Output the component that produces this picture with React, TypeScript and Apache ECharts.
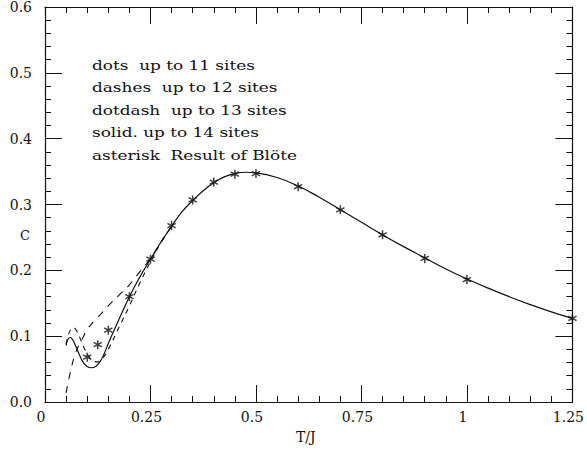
import React, { useEffect, useRef } from "react";
import * as echarts from "echarts";

// ---- data ----
const solidLow: [number, number][] = [
  [0.05, 0.086], [0.055, 0.096], [0.06, 0.098], [0.065, 0.095], [0.07, 0.089],
  [0.08, 0.074], [0.09, 0.061], [0.1, 0.054], [0.11, 0.052], [0.12, 0.054],
  [0.13, 0.061], [0.14, 0.073], [0.15, 0.089], [0.175, 0.125], [0.2, 0.16],
  [0.225, 0.19],
];
const commonHigh: [number, number][] = [
  [0.25, 0.217], [0.275, 0.243], [0.3, 0.267], [0.325, 0.289], [0.35, 0.306],
  [0.375, 0.321], [0.4, 0.333], [0.425, 0.342], [0.45, 0.347], [0.475, 0.349],
  [0.5, 0.348], [0.55, 0.341], [0.6, 0.328], [0.65, 0.311], [0.7, 0.292],
  [0.75, 0.273], [0.8, 0.254], [0.85, 0.236], [0.9, 0.219], [0.95, 0.202],
  [1.0, 0.187], [1.05, 0.173], [1.1, 0.16], [1.15, 0.148], [1.2, 0.137],
  [1.25, 0.127],
];
const dashesLow: [number, number][] = [
  [0.05, 0.014], [0.055, 0.03], [0.06, 0.045], [0.07, 0.07], [0.08, 0.086],
  [0.09, 0.098], [0.1, 0.11], [0.115, 0.122], [0.13, 0.132], [0.15, 0.146],
  [0.175, 0.162], [0.2, 0.178], [0.225, 0.198], [0.25, 0.218], [0.275, 0.243],
  [0.3, 0.267],
];
const dotdashLow: [number, number][] = [
  [0.05, 0.088], [0.055, 0.101], [0.06, 0.109], [0.067, 0.113], [0.075, 0.108],
  [0.085, 0.094], [0.095, 0.079], [0.105, 0.068], [0.115, 0.062], [0.125, 0.061],
  [0.135, 0.065], [0.15, 0.08], [0.175, 0.113], [0.2, 0.146], [0.225, 0.181],
  [0.25, 0.213], [0.275, 0.242], [0.3, 0.267],
];
const bloteT = [0.1, 0.125, 0.15, 0.2, 0.25, 0.3, 0.35, 0.4, 0.45, 0.5, 0.6, 0.7, 0.8, 0.9, 1.0, 1.25];
const bloteC = [0.068, 0.087, 0.109, 0.16, 0.217, 0.268, 0.307, 0.334, 0.346, 0.347, 0.327, 0.292, 0.254, 0.218, 0.186, 0.127];
const legendLines = [
  "dots  up to 11 sites",
  "dashes  up to 12 sites",
  "dotdash  up to 13 sites",
  "solid. up to 14 sites",
  "asterisk  Result of Blöte",
];

const FONT = "DejaVu Serif";
const ASTERISK =
  "path://M-0.8,-5 L0.8,-5 L0.8,5 L-0.8,5 Z " +
  "M3.93,3.193 L-4.73,-1.807 L-3.93,-3.193 L4.73,1.807 Z " +
  "M-4.73,1.807 L3.93,-3.193 L4.73,-1.807 L-3.93,3.193 Z";

export default function App() {
  const ref = useRef<HTMLDivElement>(null);
  useEffect(() => {
    if (!ref.current) return;
    const chart = echarts.init(ref.current, undefined, { renderer: "svg" });
    const black = "#111";
    const axisBase = (show: boolean) => ({
      axisLine: { show: true, onZero: false, lineStyle: { color: black, width: 1.2 } },
      axisTick: { show: true, inside: true, length: 17, lineStyle: { color: black, width: 1 } },
      minorTick: { show: true, splitNumber: 5, length: 6, lineStyle: { color: black, width: 1 } },
      splitLine: { show: false },
      minorSplitLine: { show: false },
      axisLabel: { show, color: black, fontFamily: FONT, fontSize: 14 },
    });
    chart.setOption({
      animation: false,
      backgroundColor: "#fff",
      grid: { left: 45, right: 12, top: 6, bottom: 48 },
      xAxis: [
        {
          type: "value", min: 0, max: 1.25, interval: 0.25, position: "bottom",
          ...axisBase(true),
          axisLabel: {
            show: true, color: black, fontFamily: FONT, fontSize: 14, margin: 8,
            padding: [0, 8, 0, 0],
          },
          name: "T/J", nameLocation: "middle", nameGap: 28,
          nameTextStyle: { color: black, fontFamily: FONT, fontSize: 14, padding: [0, 6, 0, 0] },
        },
        { type: "value", min: 0, max: 1.25, interval: 0.25, position: "top", ...axisBase(false) },
      ],
      yAxis: [
        {
          type: "value", min: 0, max: 0.6, interval: 0.1, position: "left",
          ...axisBase(true),
          axisLabel: {
            show: true, color: black, fontFamily: FONT, fontSize: 14, margin: 13,
            formatter: (v: number) => v.toFixed(1),
          },
        },
        { type: "value", min: 0, max: 0.6, interval: 0.1, position: "right", ...axisBase(false) },
      ],
      graphic: [
        {
          type: "text", x: 20, y: 229,
          style: { text: "C", fill: black, font: `13px "${FONT}"`, verticalAlign: "top" },
        },
        ...legendLines.map((t, i) => ({
          type: "text", x: 92, y: 59 + i * 22.5, scaleX: 1.3,
          style: { text: t, fill: black, font: `13px "${FONT}"`, verticalAlign: "top" },
        })),
      ],
      series: [
        {
          type: "line", name: "solid", data: [...solidLow, ...commonHigh], smooth: true,
          showSymbol: false, lineStyle: { color: black, width: 1.2, type: "solid" },
        },
        {
          type: "line", name: "dashes", data: dashesLow, smooth: true,
          showSymbol: false, lineStyle: { color: black, width: 1.1, type: [7, 7] },
        },
        {
          type: "line", name: "dotdash", data: dotdashLow, smooth: true,
          showSymbol: false, lineStyle: { color: black, width: 1.1, type: [5, 5] },
        },
        {
          type: "scatter", name: "Blöte", data: bloteT.map((t, i) => [t, bloteC[i]]),
          symbol: ASTERISK, symbolSize: 9, itemStyle: { color: black },
        },
      ],
    });
    return () => chart.dispose();
  }, []);
  return <div ref={ref} style={{ position: "fixed", left: 0, top: 0, width: 587, height: 450 }} />;
}
